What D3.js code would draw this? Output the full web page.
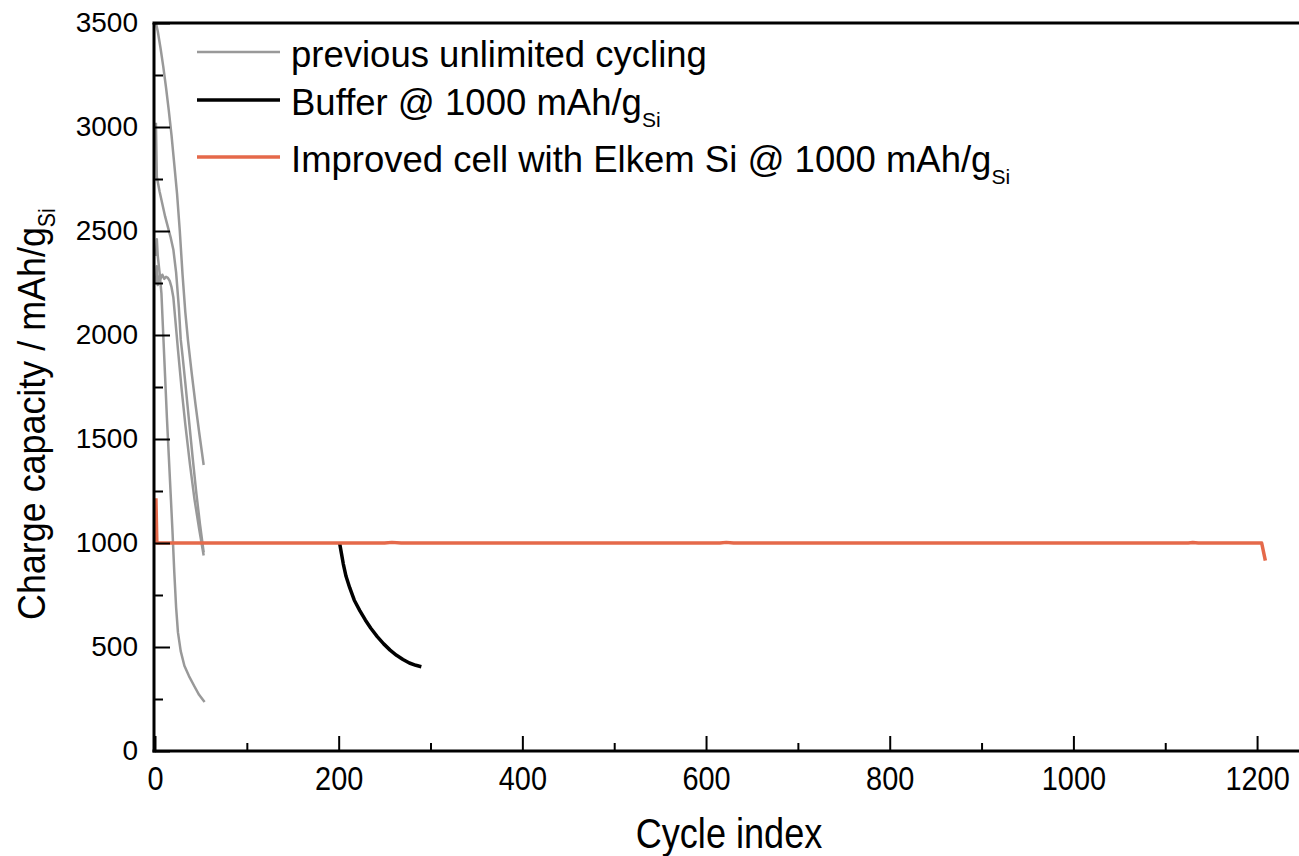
<!DOCTYPE html>
<html>
<head>
<meta charset="utf-8">
<script src="https://cdn.jsdelivr.net/npm/d3@7"></script>
<style>
  body { margin: 0; background: #fff; }
  svg text { font-family: "Liberation Sans", Arial, Helvetica, sans-serif; fill: #000; }
</style>
</head>
<body>
<svg id="chart" width="1299" height="856"></svg>
<script>
// Axis ticks
const xMajorTicks = [0, 200, 400, 600, 800, 1000, 1200];
const xMinorTicks = [100, 300, 500, 700, 900, 1100];
const yMajorTicks = [0, 500, 1000, 1500, 2000, 2500, 3000, 3500];
const yMinorTicks = [250, 750, 1250, 1750, 2250, 2750, 3250];

// Earlier cells cycled without capacity limit: [cycle, charge capacity mAh/gSi]
const prevCellA = [[1,3500],[3,3460],[6,3380],[9,3290],[12,3190],[15,3080],[18,2960],[21,2820],[24,2680],[27,2500],[30,2290],[33,2110],[36,1970],[40,1815],[44,1670],[48,1535],[53,1375]];
const prevCellB = [[1,3020],[2,2760],[5,2690],[8,2630],[11,2570],[14,2520],[17,2470],[20,2410],[23,2300],[26,2130],[28,1980],[30,1900],[33,1770],[37,1590],[41,1410],[45,1240],[49,1090],[53,955]];
const prevCellC = [[1,2250],[2,2330],[3,2240],[4,2280],[6,2270],[8,2290],[10,2270],[12,2280],[14,2275],[16,2260],[18,2230],[20,2180],[22,2080],[25,1930],[29,1740],[33,1570],[38,1380],[43,1210],[48,1070],[53,940]];
const prevCellD = [[1,2380],[2,2460],[3,2380],[5,2300],[7,2200],[9,2000],[11,1800],[13,1600],[15,1420],[17,1240],[19,1060],[21,860],[23,690],[25,570],[28,480],[32,410],[37,360],[43,310],[48,270],[54,235]];
const previousCells = [prevCellA, prevCellB, prevCellC, prevCellD];

// Buffered cell limited to 1000 mAh/gSi
const bufferCell = [[201,1000],[203,950],[205,900],[208,840],[212,785],[217,725],[223,675],[229,630],[235,590],[242,550],[249,515],[256,485],[263,460],[270,440],[277,423],[284,412],[290,405]];

// Improved cell with Elkem Si limited to 1000 mAh/gSi
const improvedCell = [[1,1215],[2,1000],[250,1000],[258,1003],[268,1000],[615,1000],[622,1003],[630,1000],[1125,1000],[1130,1002],[1136,1000],[1205,1000],[1209,915]];

const legendEntries = [
  { label: "previous unlimited cycling", sub: "", color: "#999999", width: 2.5 },
  { label: "Buffer @ 1000 mAh/g", sub: "Si", color: "#000000", width: 3.5 },
  { label: "Improved cell with Elkem Si @ 1000 mAh/g", sub: "Si", color: "#E5694A", width: 3.5 }
];

const svg = d3.select("#chart");
const x = d3.scaleLinear().domain([0, 1250]).range([155, 1303]);
const y = d3.scaleLinear().domain([0, 3500]).range([751, 23]);

const line = d3.line().x(d => x(d[0])).y(d => y(d[1]));

const plot = svg.append("g");

// data lines
plot.selectAll("path.prev")
  .data(previousCells)
  .join("path")
  .attr("class", "prev")
  .attr("d", line)
  .attr("fill", "none")
  .attr("stroke", "#999999")
  .attr("stroke-width", 2.5)
  .attr("stroke-linejoin", "round");

plot.append("path")
  .datum(bufferCell)
  .attr("d", line)
  .attr("fill", "none")
  .attr("stroke", "#000")
  .attr("stroke-width", 3.5)
  .attr("stroke-linejoin", "round");

plot.append("path")
  .datum(improvedCell)
  .attr("d", line)
  .attr("fill", "none")
  .attr("stroke", "#E5694A")
  .attr("stroke-width", 3.5)
  .attr("stroke-linejoin", "round");

// axes
const axisColor = "#000";
const xAxis = svg.append("g").attr("transform", `translate(0,${y(0)})`);
xAxis.call(d3.axisBottom(x).tickValues(xMajorTicks).tickSize(-15).tickPadding(15).tickFormat(d3.format("d")));
xAxis.append("g").call(d3.axisBottom(x).tickValues(xMinorTicks).tickSize(-8).tickFormat(""));
xAxis.selectAll(".domain").remove();
xAxis.selectAll("line").attr("stroke", axisColor).attr("stroke-width", 2);
xAxis.selectAll("text")
  .attr("font-size", 34)
  .attr("font-family", "Liberation Sans, Arial, sans-serif")
  .attr("transform", "scale(0.85,1)");

const yAxis = svg.append("g").attr("transform", `translate(${x(0)},0)`);
yAxis.call(d3.axisLeft(y).tickValues(yMajorTicks).tickSize(-15).tickPadding(17).tickFormat(d3.format("d")));
yAxis.append("g").call(d3.axisLeft(y).tickValues(yMinorTicks).tickSize(-8).tickFormat(""));
yAxis.selectAll(".domain").remove();
yAxis.selectAll("line").attr("stroke", axisColor).attr("stroke-width", 2);
yAxis.selectAll("text").attr("font-size", 28).attr("font-family", "Liberation Sans, Arial, sans-serif");

// frame lines: left, bottom, top
svg.append("line").attr("x1", x(0) - 1).attr("x2", x(0) - 1).attr("y1", y(3500)).attr("y2", y(0) + 1.5)
  .attr("stroke", axisColor).attr("stroke-width", 3);
svg.append("line").attr("x1", x(0) - 2.5).attr("x2", 1299).attr("y1", y(0)).attr("y2", y(0))
  .attr("stroke", axisColor).attr("stroke-width", 3);
svg.append("line").attr("x1", x(0) - 2.5).attr("x2", 1299).attr("y1", y(3500)).attr("y2", y(3500))
  .attr("stroke", axisColor).attr("stroke-width", 3);

// axis titles (narrow lettering)
svg.append("text")
  .attr("transform", "translate(729,848) scale(0.86,1)")
  .attr("text-anchor", "middle")
  .attr("font-size", 42)
  .text("Cycle index");

const yTitle = svg.append("text")
  .attr("transform", "translate(45,620) rotate(-90) scale(0.92,1)")
  .attr("text-anchor", "start")
  .attr("font-size", 39);
yTitle.append("tspan").text("Charge capacity / mAh/g");
yTitle.append("tspan").attr("dy", 10).attr("font-size", 23).text("Si");

// legend
const legend = svg.append("g");
const rowY = [52, 100, 157];
legendEntries.forEach((e, i) => {
  legend.append("line")
    .attr("x1", 197).attr("x2", 280)
    .attr("y1", rowY[i]).attr("y2", rowY[i])
    .attr("stroke", e.color).attr("stroke-width", e.width);
  const t = legend.append("text")
    .attr("x", 291).attr("y", rowY[i] + 15)
    .attr("font-size", 36.5);
  t.append("tspan").text(e.label);
  if (e.sub) t.append("tspan").attr("dy", 12).attr("font-size", 21).text(e.sub);
});
</script>
</body>
</html>
